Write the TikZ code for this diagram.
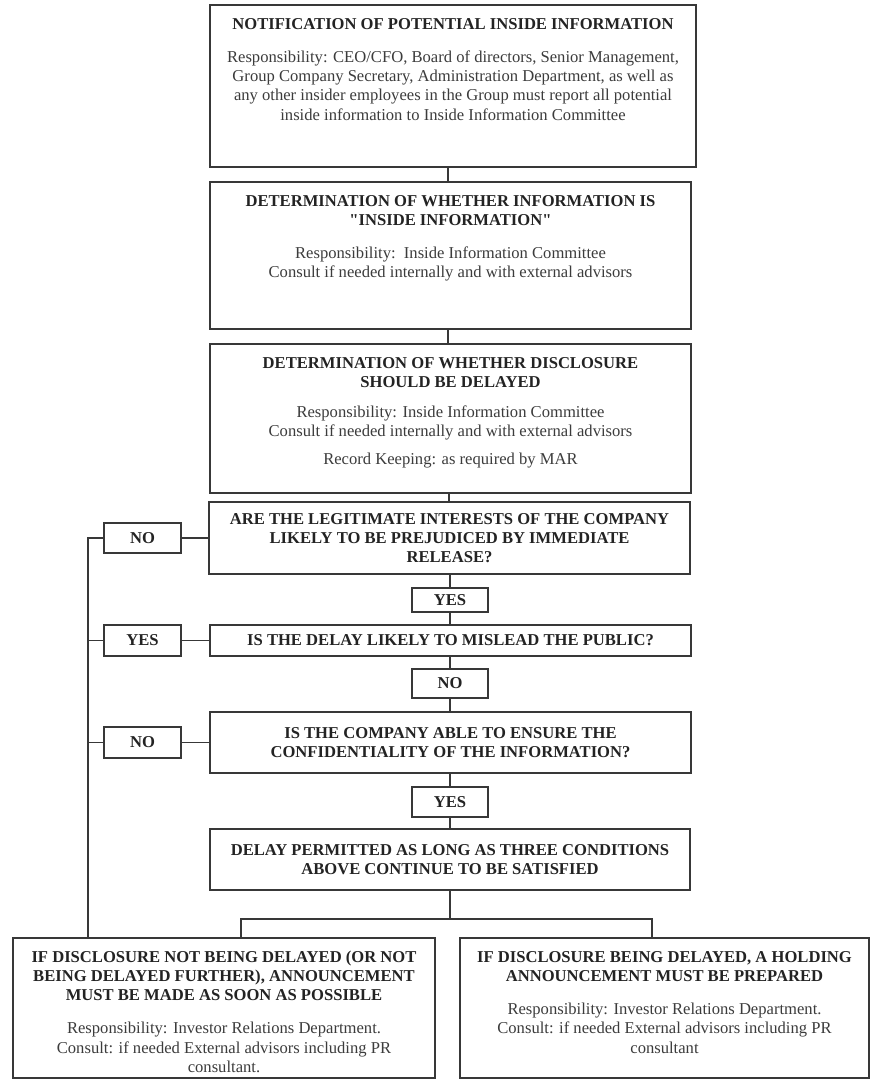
\documentclass[tikz,border=0pt]{standalone}
\usepackage{fontspec}
\setmainfont{Liberation Serif}
\definecolor{edge}{HTML}{383838}
\definecolor{ink}{HTML}{232323}
\definecolor{bodyink}{HTML}{3C3C3C}
\newcommand{\tallbox}[3]{\begin{minipage}[c][#1][t]{#2}\centering\vspace*{10.5pt}#3\par\end{minipage}}
\newcommand{\flowbody}{\color{bodyink}\mdseries}
\newcommand{\straightquote}{\XeTeXglyph\XeTeXcharglyph"22\relax}
\tikzset{
  flowbox/.style={draw=edge, line width=2pt, fill=white, inner sep=0pt, text=ink,
    font=\fontsize{16.6}{19.3}\selectfont\bfseries},
  centerbox/.style={flowbox, align=center, inner sep=4pt},
  answer/.style={draw=edge, line width=2pt, fill=white, inner sep=0pt, minimum width=77pt,
    font=\fontsize{16.6}{19.3}\selectfont\bfseries, text=ink},
  link/.style={draw=edge, line width=1.5pt}
}
\begin{document}
\begin{tikzpicture}[x=1pt,y=-1pt]
\useasboundingbox[fill=white] (0,0) rectangle (871,1080);

% main column
\node[flowbox, minimum width=486pt, minimum height=162pt] (n1) at (453,86)
 {\tallbox{162pt}{476pt}{\strut NOTIFICATION OF POTENTIAL INSIDE INFORMATION\par\vspace{14pt}
 {\flowbody Responsibility: CEO/CFO, Board of directors, Senior Management,\\
 Group Company Secretary, Administration Department, as well as\\
 any other insider employees in the Group must report all potential\\
 inside information to Inside Information Committee}}};

\node[flowbox, minimum width=481pt, minimum height=147pt] (n2) at (450.5,255.5)
 {\tallbox{147pt}{471pt}{\strut DETERMINATION OF WHETHER INFORMATION IS\\
 \straightquote INSIDE INFORMATION\straightquote\par\vspace{13.5pt}
 {\flowbody Responsibility:\ \ Inside Information Committee\\
 Consult if needed internally and with external advisors}}};

\node[flowbox, minimum width=481pt, minimum height=149pt] (n3) at (450.5,418.5)
 {\tallbox{149pt}{471pt}{\strut DETERMINATION OF WHETHER DISCLOSURE\\
 SHOULD BE DELAYED\par\vspace{11pt}
 {\flowbody Responsibility: Inside Information Committee\\
 Consult if needed internally and with external advisors\par\vspace{8pt}
 Record Keeping: as required by MAR}}};

\node[centerbox, minimum width=481pt, minimum height=72pt] (n4) at (449.5,538)
 {ARE THE LEGITIMATE INTERESTS OF THE COMPANY\\
 LIKELY TO BE PREJUDICED BY IMMEDIATE\\
 RELEASE?};

\node[answer, minimum width=76pt, minimum height=24pt] (a1) at (450,600) {YES};

\node[centerbox, minimum width=481pt, minimum height=31pt, inner sep=0pt] (n5) at (450.5,640.5)
 {IS THE DELAY LIKELY TO MISLEAD THE PUBLIC?};

\node[answer, minimum width=76pt, minimum height=29pt] (a2) at (450,683.5) {NO};

\node[centerbox, minimum width=481pt, minimum height=61pt] (n6) at (450.5,742.5)
 {IS THE COMPANY ABLE TO ENSURE THE\\
 CONFIDENTIALITY OF THE INFORMATION?};

\node[answer, minimum width=76pt, minimum height=30pt] (a3) at (450,802) {YES};

\node[centerbox, minimum width=480pt, minimum height=61pt] (n7) at (450,859.5)
 {DELAY PERMITTED AS LONG AS THREE CONDITIONS\\
 ABOVE CONTINUE TO BE SATISFIED};

% left answers
\node[answer, minimum height=30pt] (l1) at (142.5,538) {NO};
\node[answer, minimum height=31pt] (l2) at (142.5,640.5) {YES};
\node[answer, minimum height=31pt] (l3) at (142.5,742.5) {NO};

% bottom outcomes
\node[flowbox, minimum width=422pt, minimum height=140pt] (n8) at (224,1008)
 {\tallbox{140pt}{414pt}{\strut IF DISCLOSURE NOT BEING DELAYED (OR NOT\\
 BEING DELAYED FURTHER), ANNOUNCEMENT\\
 MUST BE MADE AS SOON AS POSSIBLE\par\vspace{14pt}
 {\flowbody Responsibility: Investor Relations Department.\\
 Consult: if needed External advisors including PR\\
 consultant.}}};

\node[flowbox, minimum width=409pt, minimum height=140pt] (n9) at (664.5,1008)
 {\tallbox{140pt}{401pt}{\strut IF DISCLOSURE BEING DELAYED, A HOLDING\\
 ANNOUNCEMENT MUST BE PREPARED\par\vspace{14pt}
 {\flowbody Responsibility: Investor Relations Department.\\
 Consult: if needed External advisors including PR\\
 consultant}}};

% helper points
\coordinate (rail) at (88,538);
\coordinate (split) at (450,919);
\coordinate (bl) at (241,919);
\coordinate (br) at (652,919);

% vertical chain
\draw[link] (n2.north -| 448,0) -- (n1.south -| 448,0);
\draw[link] (n3.north -| 448,0) -- (n2.south -| 448,0);
\draw[link] (n4.north -| 449,0) -- (n3.south -| 449,0);
\draw[link] (n4.south -| a1.north) -- (a1.north);
\draw[link] (a1.south) -- (a1.south |- n5.north);
\draw[link] (n5.south -| a2.north) -- (a2.north);
\draw[link] (a2.south) -- (a2.south |- n6.north);
\draw[link] (n6.south -| a3.north) -- (a3.north);
\draw[link] (a3.south) -- (a3.south |- n7.north);
\draw[link] (n7.south -| split) -- (split);
\draw[link] (bl |- n8.north) -- (bl) -- (br) -- (br |- n9.north);

% left rail
\draw[link] (n4.west) -- (l1.east);
\draw[link] (n5.west) -- (l2.east);
\draw[link] (n6.west) -- (l3.east);
\draw[link] (l1.west) -- (rail) -- (rail |- n8.north);
\draw[link] (l2.west) -- (rail |- l2.west);
\draw[link] (l3.west) -- (rail |- l3.west);
\end{tikzpicture}
\end{document}
